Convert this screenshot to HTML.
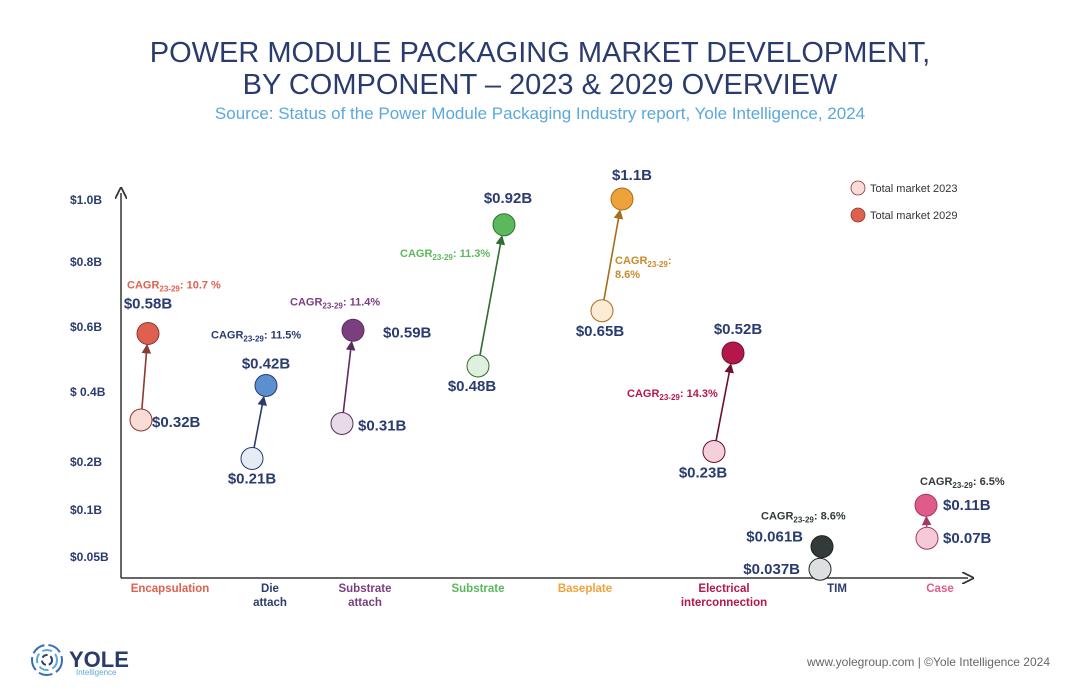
<!DOCTYPE html>
<html><head><meta charset="utf-8"><style>
body{margin:0;background:#fff;font-family:"Liberation Sans",sans-serif}
svg{display:block}
</style></head><body>
<svg width="1080" height="698" viewBox="0 0 1080 698">
<defs>
<marker id="ah" markerWidth="6" markerHeight="6" refX="5" refY="3" orient="auto"><path d="M0,0 L6,3 L0,6 z" fill="context-stroke"/></marker>
<marker id="axh" markerWidth="8" markerHeight="8" refX="4" refY="4" orient="auto"><path d="M0,0 L8,4 L0,8" fill="none" stroke="#333" stroke-width="1.2"/></marker>
</defs>
<text x="540" y="62" text-anchor="middle" font-size="29" fill="#2a3b6e">POWER MODULE PACKAGING MARKET DEVELOPMENT,</text>
<text x="540" y="94" text-anchor="middle" font-size="29" fill="#2a3b6e">BY COMPONENT – 2023 &amp; 2029 OVERVIEW</text>
<text x="540" y="119" text-anchor="middle" font-size="17" fill="#5aa8dc">Source: Status of the Power Module Packaging Industry report, Yole Intelligence, 2024</text>
<line x1="121" y1="578" x2="121" y2="193" stroke="#333" stroke-width="1.5" marker-end="url(#axh)"/>
<line x1="121" y1="578" x2="968" y2="578" stroke="#333" stroke-width="1.5" marker-end="url(#axh)"/>
<g id="yticks"></g><g id="marks"></g><g id="xlabels"></g>
<g>
<circle cx="858" cy="188" r="7" fill="#f9dcd6" stroke="#8a3a33" stroke-width="0.8"/>
<text x="870" y="192" font-size="11" fill="#333">Total market 2023</text>
<circle cx="858" cy="215" r="7" fill="#e0604f" stroke="#8a3a33" stroke-width="0.8"/>
<text x="870" y="219" font-size="11" fill="#333">Total market 2029</text>
</g>
<g>
<circle cx="47" cy="660" r="15" fill="none" stroke="#3a6fb5" stroke-width="2" stroke-dasharray="14 4"/>
<circle cx="47" cy="660" r="10" fill="none" stroke="#5aa8dc" stroke-width="2" stroke-dasharray="10 4"/>
<circle cx="47" cy="660" r="5" fill="none" stroke="#2a3b6e" stroke-width="2" stroke-dasharray="6 3"/>
<text x="69" y="667" font-size="22" font-weight="bold" fill="#2a3b6e">YOLE</text>
<text x="76" y="675" font-size="8" fill="#5aa8dc">Intelligence</text>
</g>
<text x="1050" y="666" text-anchor="end" font-size="12" fill="#666">www.yolegroup.com | ©Yole Intelligence 2024</text>
</svg>
<script>
const tickValues=[0.05,0.1,0.2,0.4,0.6,0.8,1.0];
const tickLabels=["$0.05B","$0.1B","$0.2B","$ 0.4B","$0.6B","$0.8B","$1.0B"];
const categories=["Encapsulation","Die attach","Substrate attach","Substrate","Baseplate","Electrical interconnection","TIM","Case"];
const values2023=[0.32,0.21,0.31,0.48,0.65,0.23,0.037,0.07];
const values2029=[0.58,0.42,0.59,0.92,1.1,0.52,0.061,0.11];
const cagrs=["10.7 %","11.5%","11.4%","11.3%","8.6%","14.3%","8.6%","6.5%"];
const labels2023=["$0.32B","$0.21B","$0.31B","$0.48B","$0.65B","$0.23B","$0.037B","$0.07B"];
const labels2029=["$0.58B","$0.42B","$0.59B","$0.92B","$1.1B","$0.52B","$0.061B","$0.11B"];
// layout (styling)
const tickPx=[557,510,462,392,327,262,200];
const cx23=[141,252,342,478,602,714,820,927], cx29=[148,266,353,504,622,733,822,926];
const xLab=[170,270,365,478,585,724,837,940];
const dark=["#e0604f","#5b8fd0","#7a3f7f","#5cb85c","#eea23a","#b5174a","#333a3a","#e05a8a"];
const light=["#f9dcd6","#e4ecf6","#e8dbe8","#dff0df","#fcecd3","#f3d0da","#dde0e0","#f5c9d8"];
const edge=["#8a3a33","#2a3b6e","#5a2d5e","#2f6e2f","#a86d1c","#6e0f2e","#222","#a33a62"];
const cagrCol=["#e0604f","#2a3b6e","#7a3f7f","#5cb85c","#c98a2a","#b5174a","#333a3a","#333a3a"];
const l23=[[11,7,"start"],[0,25,"middle"],[16,7,"start"],[-6,25,"middle"],[-2,25,"middle"],[-11,26,"middle"],[-20,5,"end"],[16,5,"start"]];
const l29=[[0,-25,"middle"],[0,-17,"middle"],[30,7,"start"],[4,-22,"middle"],[10,-19,"middle"],[5,-19,"middle"],[-19,-5,"end"],[17,5,"start"]];
const lc=[[-21,-45],[-55,-47],[-63,-25],[-104,32],[-7,65],[-106,44],[-61,-27],[-6,-20]];
const ns="http://www.w3.org/2000/svg";
function y(v){
  const n=tickValues.length;
  if(v>tickValues[n-1]) return tickPx[n-1]-(v-tickValues[n-1])*10;
  let i=0;
  if(v<=tickValues[0]) i=0; else {while(v>tickValues[i+1]) i++;}
  const t=(v-tickValues[i])/(tickValues[i+1]-tickValues[i]);
  return tickPx[i]+t*(tickPx[i+1]-tickPx[i]);
}
function mk(tag,attrs,parent,txt){const e=document.createElementNS(ns,tag);for(const k in attrs)e.setAttribute(k,attrs[k]);if(txt!=null)e.textContent=txt;parent.appendChild(e);return e;}
const yt=document.getElementById('yticks');
tickValues.forEach((v,i)=>{
  const t=mk('text',{x:70,y:y(v)+4,'font-size':12,'font-weight':'bold',fill:'#2a3b6e'},yt,tickLabels[i]);
  
  
});
const g=document.getElementById('marks');
categories.forEach((c,i)=>{
  const x1=cx23[i],y1=y(values2023[i]),x2=cx29[i],y2=y(values2029[i]);
  const dx=x2-x1,dy=y2-y1,d=Math.hypot(dx,dy)||1,r=11;
  if(d>2*r+2){
    const a=mk('line',{x1:x1+dx/d*r,y1:y1+dy/d*r,x2:x2-dx/d*(r+1),y2:y2-dy/d*(r+1),stroke:edge[i],'stroke-width':1.6,'marker-end':'url(#ah)'},g);
    
    
  }
  const c1=mk('circle',{cx:x1,cy:y1,r:r,fill:light[i],stroke:edge[i],'stroke-width':1},g);
  
  
  const c2=mk('circle',{cx:x2,cy:y2,r:r,fill:dark[i],stroke:edge[i],'stroke-width':1},g);
  
  
  const t1=mk('text',{x:x1+l23[i][0],y:y1+l23[i][1],'text-anchor':l23[i][2],'font-size':15,'font-weight':'bold',fill:'#2a3b6e'},g,labels2023[i]);
  
  
  const t2=mk('text',{x:x2+l29[i][0],y:y2+l29[i][1],'text-anchor':l29[i][2],'font-size':15,'font-weight':'bold',fill:'#2a3b6e'},g,labels2029[i]);
  
  
  const cg=mk('text',{x:x2+lc[i][0],y:y2+lc[i][1],'font-size':11,'font-weight':'bold',fill:cagrCol[i]},g);
  
  
  mk('tspan',{},cg,'CAGR');
  mk('tspan',{'font-size':8,dy:3},cg,'23-29');
  if(i===4){mk('tspan',{dy:-3},cg,':');mk('tspan',{x:x2+lc[i][0],dy:14},cg,cagrs[i]);}
  else mk('tspan',{dy:-3},cg,': '+cagrs[i]);
});
const xl=document.getElementById('xlabels');
categories.forEach((c,i)=>{
  const words=(c==="Die attach"||c==="Substrate attach"||c==="Electrical interconnection")?c.split(' '):[c];
  const t=mk('text',{x:xLab[i],y:592,'text-anchor':'middle','font-size':11.5,'font-weight':'bold',fill:(i===1||i===6)?'#2a3b6e':dark[i]},xl);
  
  
  words.forEach((w,j)=>mk('tspan',{x:xLab[i],dy:j?14:0},t,w));
});
</script>
</body></html>
